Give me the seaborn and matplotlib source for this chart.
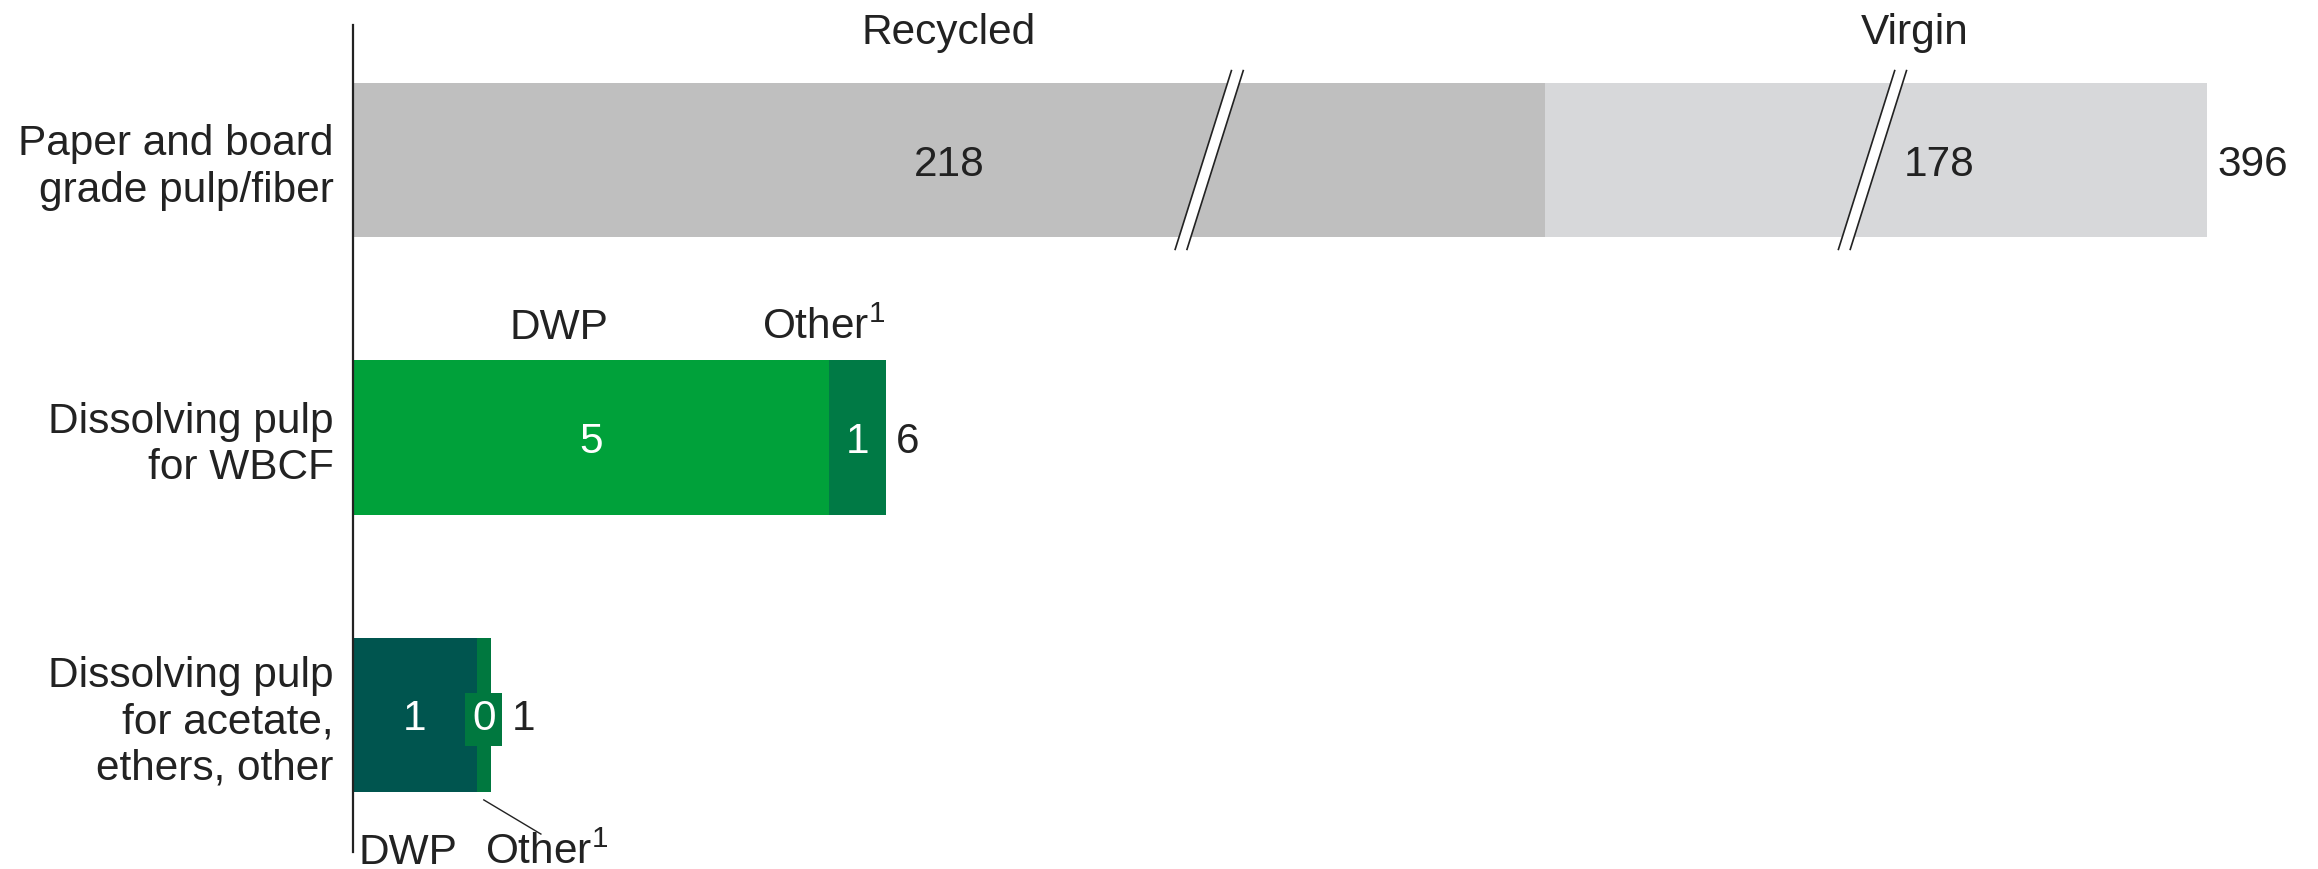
import numpy as np
import pandas as pd
import matplotlib
matplotlib.use("Agg")
import matplotlib.pyplot as plt
import seaborn as sns

# ---- data -------------------------------------------------------------
categories = ["Paper and board\ngrade pulp/fiber",
              "Dissolving pulp\nfor WBCF",
              "Dissolving pulp\nfor acetate,\nethers, other"]
first_names = ["Recycled", "DWP", "DWP"]
second_names = ["Virgin", "Other$^{1}$", "Other$^{1}$"]
first_values = [218, 5.0, 1.3]
second_values = [178, 0.6, 0.15]

# ---- styling ----------------------------------------------------------
first_colors = ["#BFBFBF", "#00A13A", "#00554F"]
second_colors = ["#D7D8DA", "#007A45", "#00783F"]
inner_text_colors = ["#222222", "white", "white"]
TEXT = "#222222"
FS = 30.5

plt.rcParams["font.family"] = ["Liberation Sans", "DejaVu Sans"]
plt.rcParams["mathtext.fontset"] = "custom"
plt.rcParams["mathtext.rm"] = "Liberation Sans"
plt.rcParams["mathtext.it"] = "Liberation Sans"
plt.rcParams["mathtext.default"] = "regular"

df = pd.DataFrame({
    "category": categories,
    "first": first_values,
    "second": second_values,
})
df["total"] = df["first"] + df["second"]

# broken value axis: linear near zero, compressed past the breaks
brk_data = np.array([-1000.0, 0.0, 9.0, 218.0, 396.0, 5000.0])
brk_units = np.array([-1000.0, 0.0, 9.05, 12.6, 19.6,
                      19.6 + (5000 - 396) * 7.0 / 178])


def fwd(x):
    return np.interp(x, brk_data, brk_units)


def inv(u):
    return np.interp(u, brk_units, brk_data)


fig = plt.figure(figsize=(23.18, 8.69), dpi=100)
ax = fig.add_axes([353 / 2318, 17 / 869, 1 - 353 / 2318, (852 - 25) / 869])

# stacked bars: total first, then the first segment on top of it
sns.barplot(data=df, y="category", x="total", hue="category",
            palette=dict(zip(categories, second_colors)), orient="h",
            width=0.556, dodge=False, legend=False, saturation=1,
            errorbar=None, ax=ax)
sns.barplot(data=df, y="category", x="first", hue="category",
            palette=dict(zip(categories, first_colors)), orient="h",
            width=0.556, dodge=False, legend=False, saturation=1,
            errorbar=None, ax=ax)
for p in ax.patches:
    p.set_linewidth(0)

ax.set_xscale("function", functions=(fwd, inv))
ax.set_xlim(0, inv(20.77))
ax.set_ylim((852 - 160) / 277.5, (25 - 160) / 277.5)

for s in ["top", "right", "bottom"]:
    ax.spines[s].set_visible(False)
ax.spines["left"].set_color(TEXT)
ax.spines["left"].set_linewidth(1.6)
ax.set_xticks([])
ax.set_xlabel("")
ax.set_ylabel("")
ax.tick_params(axis="y", length=0, pad=14, labelsize=FS, labelcolor=TEXT)


# break marks on the paper and board bar
def draw_break(xd, yc):
    u = float(fwd(xd))
    dx, dy, gap = 0.30, 0.325, 0.125
    lx = [inv(u - dx - gap / 2), inv(u + dx - gap / 2)]
    rx = [inv(u - dx + gap / 2), inv(u + dx + gap / 2)]
    ys = [yc + dy, yc - dy]
    ax.fill([lx[0], lx[1], rx[1], rx[0]], [ys[0], ys[1], ys[1], ys[0]],
            color="white", lw=0, zorder=5, clip_on=False)
    ax.plot(lx, ys, color=TEXT, lw=1.2, zorder=6, solid_capstyle="butt")
    ax.plot(rx, ys, color=TEXT, lw=1.2, zorder=6, solid_capstyle="butt")


for xb in [9, 306]:
    draw_break(xb, 0)


def seg_center(a, b):
    return inv((fwd(a) + fwd(b)) / 2)


def label(txt, x, y, dx=0, dy=0, **kw):
    kw.setdefault("ha", "center")
    kw.setdefault("va", "center_baseline")
    kw.setdefault("color", TEXT)
    ax.annotate(txt, xy=(x, y), xytext=(dx, dy), textcoords="offset pixels",
                fontsize=FS, zorder=7, annotation_clip=False, **kw)


# value labels inside the segments and totals at the bar ends
inner_shift = [(0, 63), (0, 0), (0, 0)]
total_shift = [10, 10, 21]
for i in range(len(categories)):
    a, b = first_values[i], second_values[i]
    tot = a + b
    label(f"{a:.0f}", seg_center(0, a), i, dx=inner_shift[i][0],
          color=inner_text_colors[i])
    if i == 2:
        label(f"{b:.0f}", seg_center(a, tot), i, color="white",
              bbox=dict(boxstyle="square,pad=0.16", fc=second_colors[i],
                        ec="none"))
    else:
        label(f"{b:.0f}", seg_center(a, tot), i, dx=inner_shift[i][1],
              color=inner_text_colors[i])
    label(f"{tot:.0f}", tot, i, dx=total_shift[i], ha="left")

# segment names
label(first_names[0], seg_center(0, first_values[0]), -0.418, va="baseline")
label(second_names[0],
      seg_center(first_values[0], first_values[0] + second_values[0]),
      -0.418, dx=39, va="baseline")
label(first_names[1], seg_center(0, first_values[1]), 0.645, dx=-32,
      va="baseline")
label(second_names[1], first_values[1] + second_values[1], 0.645,
      ha="right", va="baseline")

oc = seg_center(first_values[2], first_values[2] + second_values[2])
label(first_names[2], 0, 2.537, dx=6, ha="left", va="baseline")
label(second_names[2], oc, 2.537, dx=1, ha="left", va="baseline")
ax.plot([oc, oc + 0.6], [2.306, 2.429], color=TEXT, lw=1.0, clip_on=False)

fig.savefig("out.png", dpi=100)
